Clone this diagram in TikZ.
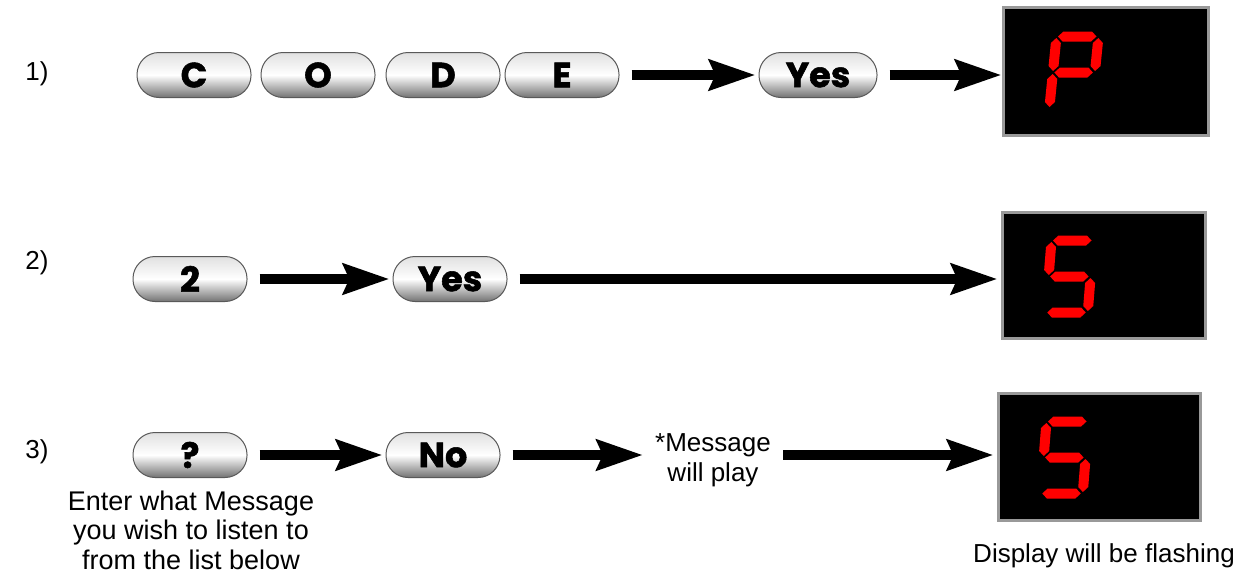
\documentclass[tikz,border=0pt]{standalone}
\usepackage{fontspec}
\setmainfont{Liberation Sans}
\newfontfamily\btnfont{Poppins}[BoldFeatures={FakeBold=1.5}]
\usetikzlibrary{arrows.meta,calc}
\newcommand\hseg[1]{\fill[segred] (1.5,#1) -- (6.5,#1-5) -- (35,#1-5) -- (40,#1) -- (35,#1+5) -- (6.5,#1+5) -- cycle;}
\newcommand\vseg[3]{\fill[segred] (#1,#2+1.5) -- (#1+5,#2+6.5) -- (#1+5,#3-6.5) -- (#1,#3-1.5) -- (#1-5,#3-6.5) -- (#1-5,#2+6.5) -- cycle;}
\begin{document}
\begin{tikzpicture}[x=1pt,y=-1pt,
  segred/.style={fill=red},
  btn/.style={draw=black!65, line width=1pt, rounded corners=22pt,
    minimum width=114pt, minimum height=45pt, inner sep=0pt,
    top color=black!12, bottom color=black!55, middle color=white,
    font=\btnfont\bfseries\fontsize{35}{35}\selectfont},
  disp/.style={fill=black, draw=black!40, line width=3pt, inner sep=0pt},
  lbl/.style={font=\fontsize{26}{29.5}\selectfont, align=center, inner sep=0pt},
  arr/.style={line width=10pt, -{Stealth[length=46pt, width=30pt, inset=6pt]},
    shorten <=12pt, shorten >=3pt}
]
\useasboundingbox (0,0) rectangle (1258,582);

% labels
\node[lbl] (l1) at (37,74) {1)};
\node[lbl] (l2) at (37,263) {2)};
\node[lbl] (l3) at (37,452) {3)};

% row 1
\node[btn] (c) at (194,75) {C};
\node[btn] (o) at (318,75) {O};
\node[btn] (d) at (443,75) {D};
\node[btn] (e) at (562,75) {E};
\node[btn, minimum width=118pt] (yes1) at (818,75) {Yes};
\node[disp, minimum width=205pt, minimum height=128pt] (d1) at (1105.5,71) {};

% row 2
\node[btn] (two) at (190,279) {2};
\node[btn] (yes2) at (450,279) {Yes};
\node[disp, minimum width=203pt, minimum height=126pt] (d2) at (1103.5,275) {};

% row 3
\node[btn] (q) at (190,455) {?};
\node[btn] (no) at (443,455) {No};
\node[lbl, inner sep=12pt] (msg) at (713,460) {*Message\\will play};
\node[disp, minimum width=202pt, minimum height=127pt] (d3) at (1099,456.5) {};

\node[lbl, font=\fontsize{27}{29.5}\selectfont] (enter) at (191,530) {Enter what Message\\you wish to listen to\\from the list below};
\node[lbl] (flash) at (1104,556) {Display will be flashing};

% arrows
\draw[arr] (e.east) -- (yes1.west);
\draw[arr, shorten >=0pt] (yes1.east) -- (d1.west |- yes1.east);
\draw[arr] (two.east) -- (yes2.west);
\draw[arr] (yes2.east) -- (d2.west |- yes2.east);
\draw[arr] (q.east) -- (no.west);
\draw[arr, shorten <=12pt, shorten >=0pt] (no.east) -- (msg.west |- no.east);
\draw[arr, shorten <=0pt] (msg.east |- no.east) -- (d3.west |- no.east);

% digits
\begin{scope}[shift={($(d1.north west)+(55,31)$)}, xslant=0.1]
  \hseg{0}\hseg{36}\vseg{0}{0}{36}\vseg{42}{0}{36}\vseg{0}{36}{72}
\end{scope}
\begin{scope}[shift={($(d2.north west)+(51,30)$)}, xslant=0.08]
  \hseg{0}\hseg{36}\hseg{72}\vseg{0}{0}{36}\vseg{42}{36}{72}
\end{scope}
\begin{scope}[shift={($(d3.north west)+(50,30)$)}, xslant=0.08]
  \hseg{0}\hseg{36}\hseg{72}\vseg{0}{0}{36}\vseg{42}{36}{72}
\end{scope}
\end{tikzpicture}
\end{document}
